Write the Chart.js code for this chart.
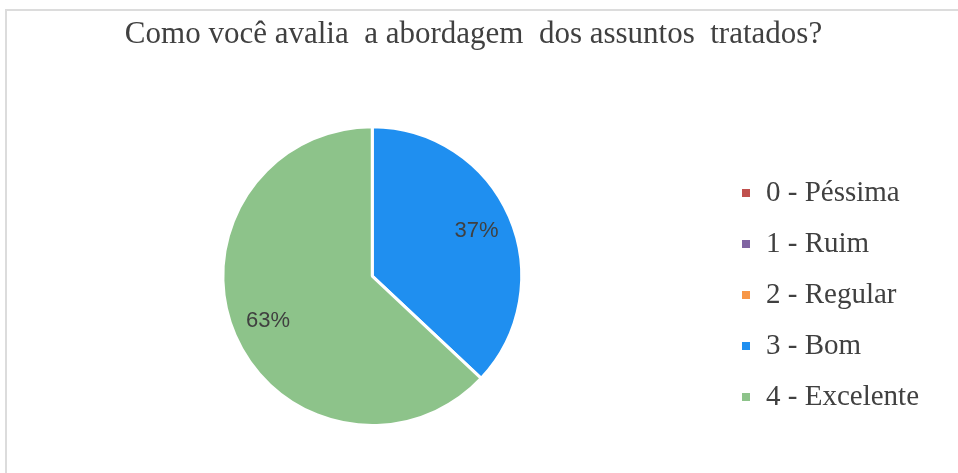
<!DOCTYPE html>
<html>
<head>
<meta charset="utf-8">
<script src="https://cdn.jsdelivr.net/npm/chart.js@4"></script>
<style>
  html, body { margin: 0; padding: 0; background: #fff; }
  #wrap { position: relative; width: 958px; height: 473px; }
</style>
</head>
<body>
<div id="wrap"><canvas id="chart"></canvas></div>
<script>
const titleText = 'Como você avalia  a abordagem  dos assuntos  tratados?';
const categories = ['0 - Péssima', '1 - Ruim', '2 - Regular', '3 - Bom', '4 - Excelente'];
const percentages = [0, 0, 0, 37, 63];
const sliceColors = ['#C0504D', '#8064A2', '#F79646', '#1F8FF0', '#8DC38A'];

// light grey frame line at top and left, like the cropped Word chart
const framePlugin = {
  id: 'frame',
  beforeDraw(chart) {
    const ctx = chart.ctx;
    ctx.save();
    ctx.strokeStyle = '#dcdcdc';
    ctx.lineWidth = 2;
    ctx.beginPath();
    ctx.moveTo(6, chart.height);
    ctx.lineTo(6, 10);
    ctx.lineTo(chart.width, 10);
    ctx.stroke();
    ctx.restore();
  },
};

// nudge title a bit left and legend a bit down, as in the original
const nudgeBoxes = {
  id: 'nudgeBoxes',
  afterLayout(chart) {
    const t = chart.titleBlock;
    if (t) { t.left -= 4; t.right -= 4; }
    const l = chart.legend;
    if (l) { l.top += 19; l.bottom += 19; }
  },
};

const sliceLabels = {
  id: 'sliceLabels',
  afterDatasetsDraw(chart) {
    const ctx = chart.ctx;
    const meta = chart.getDatasetMeta(0);
    ctx.save();
    ctx.font = '22px "Liberation Sans", sans-serif';
    ctx.fillStyle = '#404040';
    ctx.textAlign = 'center';
    ctx.textBaseline = 'middle';
    meta.data.forEach((arc, i) => {
      const v = percentages[i];
      if (!v) return;
      const { x, y, startAngle, endAngle, outerRadius } = arc.getProps(['x', 'y', 'startAngle', 'endAngle', 'outerRadius'], true);
      const mid = (startAngle + endAngle) / 2;
      const r = outerRadius * 0.76;
      ctx.fillText(v + '%', x + Math.cos(mid) * r, y + Math.sin(mid) * r);
    });
    ctx.restore();
  },
};

new Chart(document.getElementById('chart'), {
  type: 'pie',
  data: {
    labels: categories,
    datasets: [{
      data: percentages,
      backgroundColor: sliceColors,
      borderColor: '#ffffff',
      borderWidth: 3,
    }],
  },
  options: {
    responsive: true,
    maintainAspectRatio: false,
    animation: false,
    layout: { padding: { left: 26, right: 29, top: 0, bottom: 46 } },
    plugins: {
      title: {
        display: true,
        text: titleText,
        color: '#404040',
        font: { family: '"Liberation Serif", serif', size: 31, weight: 'normal' },
        padding: { top: 16, bottom: 72 },
      },
      legend: {
        position: 'right',
        fullSize: false,
        labels: {
          boxWidth: 11,
          boxHeight: 11,
          padding: 22,
          color: '#404040',
          font: { family: '"Liberation Serif", serif', size: 29 },
        },
      },
      tooltip: { enabled: false },
    },
  },
  plugins: [framePlugin, nudgeBoxes, sliceLabels],
});
</script>
</body>
</html>
